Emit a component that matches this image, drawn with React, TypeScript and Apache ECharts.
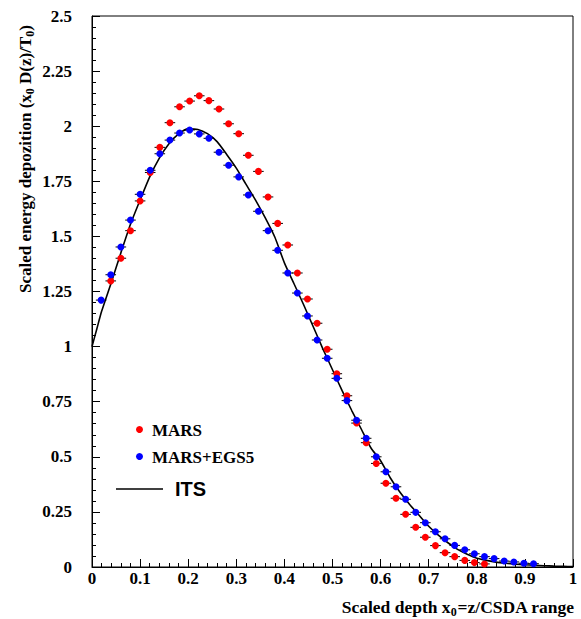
import React, { useEffect, useRef } from "react";
import * as echarts from "echarts";

const depthX = [
  0.019, 0.039, 0.060, 0.080, 0.100, 0.121, 0.141, 0.162, 0.182, 0.203,
  0.223, 0.243, 0.264, 0.284, 0.305, 0.325, 0.346, 0.366, 0.386, 0.407,
  0.427, 0.448, 0.468, 0.489, 0.509, 0.530, 0.550, 0.570, 0.591, 0.611,
  0.632, 0.652, 0.673, 0.693, 0.714, 0.734, 0.754, 0.775, 0.795, 0.816,
  0.836, 0.857, 0.877, 0.898, 0.918,
];

// MARS (red); null where no point is drawn
const marsValues = [
  null, 1.298, 1.401, 1.526, 1.661, 1.790, 1.904, 2.016, 2.088, 2.114,
  2.138, 2.116, 2.078, 2.011, 1.966, 1.868, 1.795, 1.679, 1.559, 1.461,
  1.334, 1.216, 1.106, 0.988, 0.877, 0.777, 0.653, 0.564, 0.470, 0.380,
  0.312, 0.239, 0.180, 0.135, 0.097, 0.065, 0.047, 0.030, 0.020, 0.014,
  null, null, null, null, null,
];

// MARS+EGS5 (blue)
const egsValues = [
  1.211, 1.326, 1.452, 1.574, 1.691, 1.800, 1.875, 1.937, 1.969, 1.983,
  1.965, 1.945, 1.882, 1.823, 1.770, 1.688, 1.614, 1.526, 1.437, 1.334,
  1.243, 1.139, 1.030, 0.947, 0.856, 0.755, 0.666, 0.584, 0.500, 0.432,
  0.364, 0.307, 0.248, 0.201, 0.160, 0.128, 0.098, 0.078, 0.060, 0.047,
  0.038, 0.027, 0.023, 0.017, 0.015,
];

// ITS curve
const itsX = [
  0, 0.01, 0.02, 0.04, 0.06, 0.08, 0.10, 0.12, 0.14, 0.16, 0.18, 0.20,
  0.22, 0.24, 0.26, 0.28, 0.30, 0.32, 0.34, 0.36, 0.38, 0.40, 0.42, 0.44,
  0.46, 0.48, 0.50, 0.52, 0.54, 0.56, 0.58, 0.60, 0.62, 0.64, 0.66, 0.68,
  0.70, 0.72, 0.74, 0.76, 0.78, 0.80, 0.82, 0.84, 0.86, 0.88, 0.90, 0.92,
  0.94, 0.96, 0.98, 1.00,
];
const itsY = [
  1.0, 1.08, 1.16, 1.29, 1.425, 1.555, 1.665, 1.77, 1.855, 1.92, 1.965, 1.988,
  1.985, 1.966, 1.93, 1.872, 1.81, 1.737, 1.665, 1.585, 1.497, 1.38, 1.285, 1.19,
  1.09, 0.99, 0.895, 0.80, 0.71, 0.625, 0.54, 0.482, 0.405, 0.34, 0.285, 0.235,
  0.185, 0.145, 0.11, 0.08, 0.058, 0.04, 0.03, 0.022, 0.017, 0.013, 0.01, 0.008,
  0.006, 0.004, 0.003, 0.002,
];

const legendNames = ["MARS", "MARS+EGS5", "ITS"];
const xTitle = "Scaled depth x{sub|0}=z/CSDA range";
const yTitle = "Scaled energy depozition (x{sub|0} D(z)/T{sub|0})";

const SERIF = "'Liberation Serif', 'Times New Roman', serif";
const SANS = "'Liberation Sans', Arial, sans-serif";

function pairs(xs: number[], ys: (number | null)[]) {
  const out: number[][] = [];
  xs.forEach((x, i) => {
    const y = ys[i];
    if (y !== null && y !== undefined) out.push([x, y]);
  });
  return out;
}

export default function App() {
  const ref = useRef<HTMLDivElement>(null);
  useEffect(() => {
    if (!ref.current) return;
    const chart = echarts.init(ref.current, null, { renderer: "svg" });
    const marsData = pairs(depthX, marsValues);
    const egsData = pairs(depthX, egsValues);
    const itsData = pairs(itsX, itsY);

    const errBar = (data: number[][]) => ({
      type: "custom",
      data,
      encode: { x: 0, y: 1 },
      z: 3,
      renderItem: (_p: any, api: any) => {
        const x = api.value(0);
        const y = api.value(1);
        const a = api.coord([x - 0.011, y]);
        const b = api.coord([x + 0.011, y]);
        return {
          type: "line",
          shape: { x1: a[0], y1: a[1], x2: b[0], y2: b[1] },
          style: { stroke: "#000", lineWidth: 1 },
        };
      },
    });

    const subRich = {
      sub: { fontSize: 12, fontWeight: "bold", fontFamily: SERIF, verticalAlign: "bottom", padding: [9, 0, 0, 0] },
    };

    chart.setOption({
      animation: false,
      backgroundColor: "#fff",
      grid: {
        left: 92,
        right: 8,
        top: 16,
        bottom: 52,
        show: true,
        borderColor: "#000",
        borderWidth: 1,
      },
      xAxis: {
        type: "value",
        min: 0,
        max: 1,
        interval: 0.1,
        axisLine: { show: true, lineStyle: { color: "#000", width: 1 } },
        axisTick: { show: true, inside: true, length: 8, lineStyle: { color: "#000" } },
        minorTick: { show: true, splitNumber: 5, length: 4, lineStyle: { color: "#000" } },
        splitLine: { show: false },
        axisLabel: {
          margin: 3,
          color: "#000",
          fontFamily: SERIF,
          fontWeight: "bold",
          fontSize: 17,
          formatter: (v: number) => String(Math.round(v * 100) / 100),
        },
      },
      yAxis: {
        type: "value",
        min: 0,
        max: 2.5,
        interval: 0.25,
        axisLine: { show: true, lineStyle: { color: "#000", width: 1 } },
        axisTick: { show: true, inside: true, length: 8, lineStyle: { color: "#000" } },
        minorTick: { show: true, splitNumber: 5, length: 4, lineStyle: { color: "#000" } },
        splitLine: { show: false },
        axisLabel: {
          margin: 20,
          color: "#000",
          fontFamily: SERIF,
          fontWeight: "bold",
          fontSize: 17,
          formatter: (v: number) => String(Math.round(v * 100) / 100),
        },
      },
      series: [
        {
          name: legendNames[2],
          type: "line",
          data: itsData,
          showSymbol: false,
          smooth: 0.2,
          z: 2,
          lineStyle: { color: "#000", width: 1.6 },
        },
        errBar(marsData),
        errBar(egsData),
        {
          name: legendNames[0],
          type: "scatter",
          data: marsData,
          symbol: "circle",
          symbolSize: 7,
          z: 4,
          itemStyle: { color: "#ff0000", opacity: 1 },
        },
        {
          name: legendNames[1],
          type: "scatter",
          data: egsData,
          symbol: "circle",
          symbolSize: 7,
          z: 5,
          itemStyle: { color: "#0000ff", opacity: 1 },
        },
      ],
      graphic: [
        { type: "circle", shape: { cx: 139.5, cy: 429.5, r: 3.5 }, style: { fill: "#ff0000" } },
        {
          type: "text",
          x: 152,
          y: 430,
          style: { text: legendNames[0], fill: "#000", font: `bold 17px ${SERIF}`, textVerticalAlign: "middle" },
        },
        { type: "circle", shape: { cx: 139.5, cy: 456.5, r: 3.5 }, style: { fill: "#0000ff" } },
        {
          type: "text",
          x: 152,
          y: 457,
          style: { text: legendNames[1], fill: "#000", font: `bold 17px ${SERIF}`, textVerticalAlign: "middle" },
        },
        { type: "line", shape: { x1: 116, y1: 489, x2: 163, y2: 489 }, style: { stroke: "#000", lineWidth: 1.6 } },
        {
          type: "text",
          x: 175,
          y: 489,
          style: { text: legendNames[2], fill: "#000", font: `bold 20px ${SANS}`, textVerticalAlign: "middle" },
        },
        {
          type: "text",
          x: 574,
          y: 607,
          style: {
            text: xTitle,
            fill: "#000",
            fontFamily: SERIF,
            fontWeight: "bold",
            fontSize: 17.5,
            align: "right",
            verticalAlign: "middle",
            rich: subRich,
          },
        },
        {
          type: "text",
          x: 25,
          y: 159,
          rotation: Math.PI / 2,
          style: {
            text: yTitle,
            fill: "#000",
            fontFamily: SERIF,
            fontWeight: "bold",
            fontSize: 17,
            align: "center",
            verticalAlign: "middle",
            rich: subRich,
          },
        },
      ],
    });
    return () => chart.dispose();
  }, []);
  return (
    <div
      ref={ref}
      style={{ position: "absolute", left: 0, top: 0, width: 581, height: 619 }}
    />
  );
}
